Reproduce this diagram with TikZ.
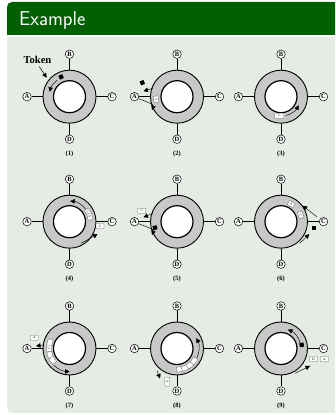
\documentclass[tikz,border=0pt]{standalone}
\usepackage{fontspec}
\setmainfont{Liberation Serif}
\usetikzlibrary{arrows.meta}
\definecolor{hdr}{RGB}{0,96,0}
\definecolor{bodybg}{RGB}{228,236,228}
\definecolor{ringgray}{RGB}{200,200,200}
\tikzset{
  ringout/.style={circle, draw=black, line width=0.9pt, fill=ringgray, minimum size=53pt, inner sep=0pt},
  ringin/.style={circle, draw=black, line width=1.2pt, fill=white, minimum size=32pt, inner sep=0pt},
  station/.style={circle, draw=black, line width=0.5pt, fill=white, minimum size=8.5pt, inner sep=0pt, font=\fontsize{6.5}{7}\selectfont\bfseries},
  stub/.style={line width=0.8pt},
  caption/.style={font=\fontsize{6.5}{7}\selectfont\bfseries},
  framebox/.style={draw=black!60, fill=white, line width=0.35pt, rounded corners=0.5pt, minimum width=6.5pt, minimum height=5pt, inner sep=0pt, font=\fontsize{3.5}{3.5}\selectfont},
  tokenbox/.style={fill=black, minimum size=4.2pt, inner sep=0pt},
  flow/.style={line width=0.45pt, -{Triangle[length=4.5pt,width=4.5pt]}},
}
\newcommand{\ringbase}[1]{%
  \node[ringout] (R#1) at (0,0) {};
  \node[ringin] (I#1) at (0,0) {};
  \node[station] (A#1) at (-42.5,0) {A};
  \node[station] (B#1) at (0,42.5) {B};
  \node[station] (C#1) at (42.5,0) {C};
  \node[station] (D#1) at (0,-42.5) {D};
  \draw[stub] (R#1.west) -- (A#1);
  \draw[stub] (R#1.north) -- (B#1);
  \draw[stub] (R#1.east) -- (C#1);
  \draw[stub] (R#1.south) -- (D#1);
  \node[caption] (cap#1) at (0,-57.5) {(#1)};
}
\begin{document}
\begin{tikzpicture}[x=1pt,y=1pt]
\useasboundingbox (0,0) rectangle (335,415);
% header and body
\fill[hdr] (7,380) -- (7,408) arc[start angle=180,end angle=90,radius=5] -- (335,413) -- (335,380) -- cycle;
\fill[bodybg] (7,378) -- (335,378) -- (335,2) -- (12,2) arc[start angle=270,end angle=180,radius=5] -- cycle;
\node[anchor=base west, text=white, font=\sffamily\fontsize{20}{24}\selectfont, inner sep=0pt] (title) at (19,389) {Example};

% ---- panel 1
\begin{scope}[shift={(69.5,318.3)}]
\ringbase{1}
\node[tokenbox, rotate=23] (t1) at (113:21.5) {};
\draw[flow] (127:20.5) arc[start angle=127, end angle=166, radius=20.5];
\end{scope}
\node[font=\fontsize{10.5}{12}\selectfont\bfseries] (toklbl) at (37.5,355) {Token};
\coordinate (tokpt) at (46.7,337.3);
\draw[line width=0.5pt, -{Triangle[length=4.5pt,width=4.5pt]}] (39.3,348.3) -- (tokpt);

% ---- panel 2
\begin{scope}[shift={(177,318.3)}]
\ringbase{2}
\node[tokenbox, rotate=20] (t2) at (-34.7,14) {};
\draw[flow] (-24.3,8.4) -- (-33.5,5.5);
\node[framebox, rotate=100] (f2) at (-21,-2.6) {C};
\draw[flow] (-38.5,-2) .. controls (-30,-5) and (-23,-8) .. (-25,-13.5);
\end{scope}

% ---- panel 3
\begin{scope}[shift={(281,318.3)}]
\ringbase{3}
\node[framebox, minimum width=9pt] (f3) at (-1.7,-19) {C};
\draw[flow] (-76:19.5) arc[start angle=-76, end angle=-26, radius=19.5];
\end{scope}

% ---- panel 4
\begin{scope}[shift={(69.5,193.3)}]
\ringbase{4}
\draw[flow] (34:20.5) arc[start angle=34, end angle=88, radius=20.5];
\node[framebox, rotate=-62] (f4a) at (28:21) {C};
\node[framebox, rotate=-76] (f4b) at (14:21) {A};
\node[framebox, minimum width=8pt] (f4c) at (30.5,-4.3) {C};
\draw[flow] (-62:24.5) .. controls (-42:26) .. (28,-12.3);
\end{scope}

% ---- panel 5
\begin{scope}[shift={(177,193.3)}]
\ringbase{5}
\node[framebox, minimum width=8pt] (f5) at (-35.3,11) {C};
\draw[flow] (-24.3,8.4) -- (-33.5,4.4);
\node[tokenbox, rotate=15] (t5) at (-22,-6) {};
\draw[flow] (-38.5,-2) .. controls (-30,-5) and (-23,-8) .. (-25,-13.5);
\end{scope}

% ---- panel 6
\begin{scope}[shift={(281,193.3)}]
\ringbase{6}
\node[framebox, rotate=-30] (f6a) at (60:20.4) {A};
\node[framebox, rotate=-71] (f6b) at (19:20.8) {C};
\draw[flow] (35.7,5) -- (21.7,16);
\node[tokenbox] (t6) at (33,-6) {};
\draw[flow] (-49:28.5) .. controls (-38:29) .. (28.3,-12.3);
\end{scope}

% ---- panel 7
\begin{scope}[shift={(69.5,66.5)}]
\ringbase{7}
\node[framebox, minimum width=8pt] (f7) at (-35.2,10.8) {A};
\draw[flow] (-25.5,3.5) -- (-33.5,2.5);
\node[framebox, rotate=73] (f7a) at (163:20.5) {};
\node[framebox, rotate=90] (f7b) at (180:20.5) {C};
\node[framebox, rotate=108] (f7c) at (198:20.5) {};
\node[framebox, rotate=125] (f7d) at (215:20.5) {};
\draw[flow] (226:23) arc[start angle=226, end angle=270, radius=23];
\end{scope}

% ---- panel 8
\begin{scope}[shift={(177,66.5)}]
\ringbase{8}
\draw[flow] (-25:22) arc[start angle=-25, end angle=28, radius=22];
\node[framebox, rotate=8] (f8a) at (-82:21) {};
\node[framebox, rotate=22] (f8b) at (-68:21) {};
\node[framebox, rotate=38] (f8c) at (-52:21) {};
\node[framebox, rotate=54] (f8d) at (-36:21) {};
\node[framebox, rotate=90, minimum width=9pt] (f8e) at (-9.7,-33.2) {E};
\draw[flow] (-20,-22) -- (-17,-30);
\end{scope}

% ---- panel 9
\begin{scope}[shift={(281,66.5)}]
\ringbase{9}
\draw[flow] (12:20) arc[start angle=12, end angle=70, radius=20];
\node[tokenbox, rotate=10] (t9) at (10:21) {};
\node[framebox, minimum width=8pt] (f9a) at (32.3,-10.5) {D};
\node[framebox, minimum width=8pt] (f9b) at (43.3,-10.5) {A};
\draw[flow] (14,-24.8) -- (29,-17.5);
\end{scope}
\end{tikzpicture}
\end{document}
